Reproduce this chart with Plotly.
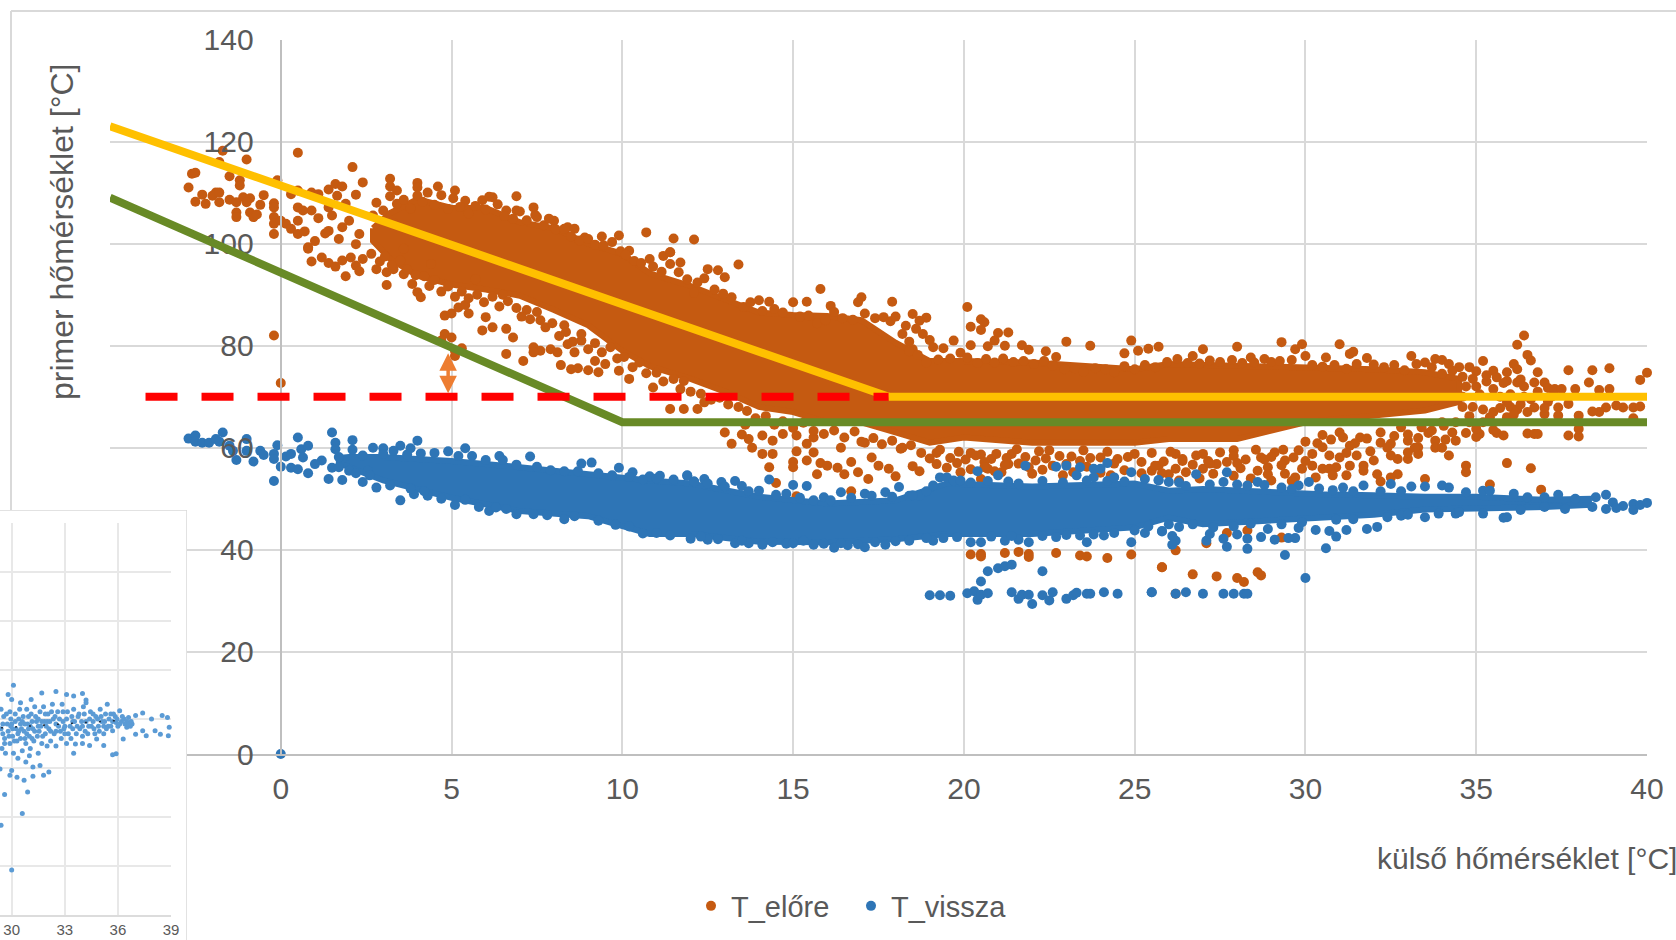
import plotly.graph_objects as go

# Values. The two densest clouds are given as an
# outline (upper/lower limit per x); the visible separate dots are listed singly.
elore_core_x = [2.7,3.2,4,5,6,7,8,9,10,10.8,12,13,14,15,16,17,18,19,20,22,25,26,28,30,32,33.5,34.5]
elore_core_hi = [103,106,108.7,107,107,104.2,103,100,98,94.2,91.7,89,86.5,86,85.8,85,80.6,77,77,76.7,75.4,76.4,76,75.7,75.4,74.8,73.5]
elore_core_lo = [100.5,97,93.7,92,91,89.8,87,84,79,76,73.5,71,68,67,65,65,63,61,62,61,61,61.7,61.7,65,66.3,67.3,69]

vissza_core_x = [1.7,2,3,5,7,9,10.8,12,14,16,18,19.5,22,25,26,27,29,30.5,32,33.5,35,37,38.3]
vissza_core_hi = [58,58.2,58.2,57.4,56.2,54.8,53.6,53,50.4,49.1,49.7,53,52.4,53,51.6,51.9,51.3,50.9,50.7,50.4,50.4,49.8,50]
vissza_core_lo = [57,56,53.6,50.2,47.6,46.6,43.1,43.1,41.6,41.5,42.1,43.1,43.1,44.4,46.3,45,45.6,46.3,46.9,47.9,48.2,48.4,48.8]

elore_left = [(-1.7,118.2),(0.5,117.8),(-1,116.5),(-1.8,116),(2.1,115),(-2.6,113.7),(-2.5,113.9),(-1.5,113.2),(-1.2,112.4),(-1.2,111.4),(-2.7,111),(-0.1,112.4),(-.5,109.5),(-2.3,109.6),(-1.9,110),(-2,109.4),(-1.8,110),(-2.5,108.2),(-2.2,107.8),(-1.8,108.1),(-1.5,108.6),(-1.3,108.1),(-1.1,109.1),(-.9,108.9),(-1,108.1),(-.6,107.6),(-1.3,106.1),(-1.3,105.2),(-.9,106.1),(-.8,105.2),(-.7,105.7),(-.2,107.9),(-.2,107.1),(-.2,105.2),(-.2,103.9),(-.2,101.9),(0,104.5),(.15,103.9),(.3,102.9),(.5,101.9),(.7,102.4),(.3,109.7),(.5,110.4),(.9,110),(1.1,109.7),(1.4,110.6),(1.6,111.7),(1.8,111.2),(2.4,112),(1.65,109.4),(2.2,109.6),(.5,107.1),(.9,106.5),(.65,106.5),(.5,104.5),(1.1,105),(1.4,107.1),(1.5,105.5),(1.9,107.8),(2,104.5),(1.8,103.2),(1.4,102.5),(1.3,102),(1.7,100.9),(2.3,101.9),(2.2,99.9),(1,100.5),(.8,99.3),(.8,99),(.9,96.5),(1.2,97.3),(1.4,96.2),(1.6,95.5),(1.8,96.7),(2.05,97.3),(1.9,93.6),(2.2,95.7),(2.3,94.6),(2.4,97),(2.8,95),(3.1,91.9),(3.1,94.4),(3.3,95),(3.6,94),(3.85,92.1),(4,90.5),(4.1,89.5),(3.2,112.7),(3.2,111.2),(4,111.9),(4,111),(4.6,111.2),(5.1,110.4),(3.4,110.4),(6.9,109.3),(6.2,109.1),(5.4,108.4),(6.6,106.5),(6.9,106.5),(7.4,107.1),(7.5,105.2),(8,104.5),(8.4,103.2),(8.6,102.9),(8.9,101.2),(9.4,101.4),(9.9,101.6),(10.7,102.2),(11.5,101),(12.1,100.8),(11.4,98.3),(10.8,97),(10.2,98.6),(4.8,85.9),(5,86.3),(5.2,87.5),(5.4,88),(5.5,86.3),(4.8,82.3),(5,81.6),(4.7,81),(5.1,79),(5.3,79.5),(5.1,78),(5.9,83),(6,85.6),(6.2,83.6),(6.6,83.3),(6.8,81.6),(6.6,78.4),(7.1,77),(7.4,79.7),(7.6,79),(7.4,78.7),(7.9,79.3),(8.1,78.7),(8.4,80.3),(8.6,78.7),(8.2,76.2),(8.5,75.4),(8.7,75.6),(9,75.2),(9.2,77),(9.3,74.8),(9.5,76.4),(9.9,75.1),(10.2,73.5),(10.9,71.8),(11.8,73.1),(-.2,82),(0,72.7),(3.3,104),(3.6,99),(4.4,96),(5.7,93),(6.5,90),(7.2,87),(7.6,85),(8.3,84),(8.8,81)]

elore_mid = [(11.4,67.6),(11.8,67.6),(12.2,67.6),(12.4,68.9),(13,63),(13.2,60.8),(13.5,62.6),(13.7,61.7),(13.8,60),(14.1,62.4),(14.1,58.8),(14.4,58.8),(14.3,56.2),(14.4,61.4),(14.7,62.7),(15,57.2),(15,56.2),(15.1,59.3),(15.1,62.4),(15.4,57.5),(15.4,60.8),(15.6,59.1),(15.7,54.8),(15.8,57),(16,56.5),(16.3,56.1),(16.5,54.8),(16.7,57.2),(16.9,55.2),(17.2,53.9),(17.3,58.1),(17.5,56.5),(17.8,55.9),(18,54.4),(18.5,56.4),(18.7,55.4),(14.5,53.1),(16.7,51.5),(15.1,50.5),(19.9,55.2),(20.5,53.9),(20.7,55.9),(21.1,55.2),(20.2,59),(20.5,58.7),(20.8,57.8),(21.4,58.8),(21.3,56.8),(21.9,56.2),(22.1,57.5),(22.5,59.5),(23,56.8),(23.5,59.5),(24,58.1),(24.5,57.8),(25,58.8),(25.5,55.5),(25.7,56.5),(20.2,39.1),(20.5,39.2),(20.5,38.7),(21.2,39.4),(21.6,39.6),(21.9,39.2),(21.9,38.6),(22.7,39.4),(23.4,38.9),(23.6,38.7),(24.2,38.4),(24.9,39.1),(25.8,36.6),(13.4,95.9),(15.8,91.1),(12.8,94.8),(13,93.4),(12.5,95),(11.7,96.3),(11.2,97.6),(11.4,98.3),(12.1,90.4),(14.3,88.6),(14,88.9),(15,88.5),(15.4,88.6),(17,89.5),(16.9,88.5),(17.9,88.6),(16.1,87.8),(18.5,86.2),(18.9,85.5),(18.7,84.9),(18.3,83.9),(18.6,83.3),(18.8,82.3),(19,81.1),(18.4,80.8),(18.5,79.3),(19.1,79.7),(19.4,79.5),(19.7,81),(20.1,87.6),(20.2,83.7),(20.5,85.2),(20.6,84.6),(20.5,83.1),(20.2,80.1),(21,82.5),(21.3,82.6),(20.9,81),(20.7,79.9),(21.2,80),(21.7,80.1),(21.9,79.2),(22.4,78.9),(22.7,77.8),(23,80.8),(23.7,80),(24.9,81),(25.1,79),(25.4,79.4),(25.7,79.8),(24.7,78.5),(13.6,64.5),(15.6,62),(17.1,61),(19.2,59),(18.2,60),(16.4,60)]

elore_right = [(26.7,78),(27,79.3),(28,79.8),(29.3,80.7),(29.7,79.3),(29.9,80.3),(30,78),(28.8,77.4),(28.4,77.7),(30.6,77.7),(31,80.3),(31.3,78.4),(31.4,78.8),(31.8,77.6),(33.1,78),(33.5,76.7),(33.8,77.4),(34,77.2),(34.2,76.4),(34.5,75.8),(35.2,77),(34.8,75.8),(35.5,75.1),(36.1,76.4),(36.2,80.2),(36.4,82),(36.5,78.2),(36.6,77.1),(36.8,74.8),(35.9,74.8),(36.2,75.4),(36.2,72.8),(36.7,72.8),(37,72.8),(37.1,71.7),(37.3,71.5),(37.5,71.5),(37.7,75.2),(37.9,71.5),(38.3,72.8),(38.4,75.2),(38.6,71.3),(38.9,71.5),(38.9,75.6),(39.8,73.3),(40,74.7),(39.3,67.9),(39.6,67.9),(39.8,68.1),(39.1,68.3),(38.8,67.9),(38.6,67),(38.4,67.1),(38,66.3),(37.4,67.9),(37.4,66.3),(37.7,68.6),(37,66.6),(36.7,67.9),(36.5,67),(39.6,65.8),(37.7,62.4),(38,62.2),(38,63.7),(36.5,62.8),(36.7,62.7),(36.8,62.7),(35.6,62.9),(35.8,62.4),(35.1,62.7),(35,62.1),(34.7,62.9),(34.4,61.4),(34.1,61.6),(33.8,61.4),(33.8,60),(33.6,62.9),(33.3,60.1),(33.3,58.8),(33,57.8),(32.7,57.8),(32.5,58.5),(34.2,58.5),(33,59.1),(34.7,56.5),(34.7,55.2),(35.9,57),(36.6,56),(33.5,53.9),(32.2,53.4),(32.7,54.8),(32.5,54.2),(32.1,54.8),(35.4,52.8),(36.9,51.8),(30.9,56.2),(30.5,55.9),(30.7,55.9),(31.3,56.5),(31.7,56.5),(31,58.1),(31.5,58.5),(32,57.5),(30.8,54.6),(31.2,54.6),(31.7,55.5),(30.3,54.2),(29.9,55.9),(30.2,56.5),(30.2,58.8),(29.7,54.2),(29.4,54.9),(29.4,57.5),(28.9,56.2),(28.6,55.5),(28.1,56),(27.7,57.2),(27.4,56.8),(27,55.9),(26.7,56.7),(26.5,55.2),(26.2,55.9),(26,54.8),(25.6,56.5),(26.2,58.8),(27,58.8),(27.9,59.5),(28.7,58.1),(29.1,59.1),(29.8,59.5),(30.5,60.1),(31.3,60.4),(32.5,60.8),(33,61.4),(25.8,36.6),(26.7,35.2),(27.4,34.8),(28,34.5),(28.2,33.7),(28.6,35.6),(28.7,35),(26.2,39.9),(27.1,41.3),(27.7,43.3),(28.3,43.8),(29.3,42.4),(26.2,31.4),(30.5,62.5),(31,63),(31.6,62),(32.2,63),(32.8,64),(33.4,64),(34,65),(34.6,70),(35,72),(35.4,66),(35.7,70),(36,68),(35.3,73),(36.4,70),(37.1,69)]

elore_top_edge = [(2.7,105.5),(2.8,108),(3,106.5),(3.2,109.3),(3.4,107.8),(3.6,108.6),(3.8,106.9),(4,109.4),(4.15,108.2),(4.3,110),(4.5,107.6),(4.7,109.5),(4.9,106.8),(5.05,108.9),(5.25,107.2),(5.5,105.9),(5.7,107.4),(5.9,108.5),(6,106.7),(6.1,109.2),(6.35,107.7),(6.55,105.4),(6.8,104.9),(7,106.3),(7.2,104.6),(7.45,105.6),(7.7,103.6),(7.85,104.9),(8.05,102.8),(8.3,102.9),(8.5,101.4),(8.75,100.6),(9,100.9),(9.2,99.8),(9.45,99.7),(9.7,100.3),(9.95,98.5),(10.1,97.8),(10.35,96.6),(10.55,96.2),(10.9,95.5),(11.15,94.5),(11.4,96),(11.65,94.4),(11.9,93),(12.2,92.4),(12.4,93.2),(12.7,91),(12.95,90.2),(13.2,89.5),(13.55,87.6),(13.75,88.5),(14.1,86.8),(14.45,87.2),(14.7,86.5),(15.2,85.7),(15.45,85.9),(15.7,84.4),(15.95,85),(16.2,86.6),(16.45,85.4),(16.75,85.1),(17.1,86.3),(17.4,85.4),(17.65,85.6),(17.85,84.8),(18,85.7),(18.2,82.3),(18.4,78.9),(18.65,78.2),(18.9,76.7),(19.25,77.3),(19.6,77.5),(19.9,78.6),(20.1,77.7),(20.4,76.6),(20.65,77.4),(20.9,76.7),(21.15,77.5),(21.45,76.8),(21.75,77),(22.05,76.4),(22.35,77),(22.6,76.1),(22.95,75.4),(23.25,75.6),(23.5,74.9),(23.85,75.6),(24.15,75.4),(24.4,74.8),(24.7,76),(25,75.4),(25.3,76.2),(25.6,75.8),(25.95,76.8),(26.25,77.4),(26.55,76.6),(26.9,76.5),(27.2,77.1),(27.5,76.8),(27.85,77.2),(28.15,76.6),(28.5,76.7),(29,76.8),(29.25,77),(29.6,77.2),(30.2,76.2),(30.5,75.9),(30.85,76.2),(31.2,75.5),(31.5,76.4),(32,76.3),(32.3,75.8),(32.6,76.2),(32.9,75.2),(33.25,76.4),(33.7,75.8),(34,74.5),(34.3,75.1),(34.6,73.9),(35,75),(35.3,74.2),(35.6,73.8),(35.9,73.1),(36.3,73.4)]

elore_low_edge = [(2.65,98),(2.9,96.5),(3.05,97.5),(3.25,95.8),(3.5,96.7),(3.7,94.9),(3.95,93.8),(4.2,93.6),(4.35,91.7),(4.5,92.9),(4.7,90.6),(4.9,91.6),(5.1,89.6),(5.3,90.6),(5.5,89.3),(5.75,90),(5.95,88.5),(6.2,89.6),(6.4,87.7),(6.65,88.7),(6.9,87.4),(7.05,85.7),(7.3,85.2),(7.5,86.6),(7.75,83.6),(7.95,84.4),(8.15,81.9),(8.35,82.7),(8.55,80.8),(8.8,82.3),(9,79.3),(9.2,80.5),(9.4,78.7),(9.65,79.7),(9.85,77.5),(10.05,77.8),(10.3,75.8),(10.5,76.7),(10.7,74.6),(11,74.7),(11.2,73),(11.5,73.5),(11.7,71.5),(12,71),(12.3,70.6),(12.6,69.4),(12.85,69.8),(13.1,68.5),(13.4,68),(13.65,67.2),(13.9,65.8),(14.2,66.2),(14.45,64.5),(14.7,65.2),(15,63.9),(15.3,64.9),(15.6,63.3),(15.9,62.7),(16.2,63.4),(16.5,62),(16.8,63.2),(17,61.2),(17.35,61.9),(17.6,60.7),(17.9,61.4),(18.15,59.8),(18.45,60.5),(18.75,59),(19,57.9),(19.3,59.6),(19.6,58),(19.85,59.2),(20.05,57.7),(20.35,58.5),(20.6,57.2),(20.95,58.8),(21.25,58),(21.55,59.7),(21.8,58.2),(22.2,59.3),(22.4,57.9),(22.8,58.4),(23.15,58.3),(23.4,57.4),(23.7,58),(24.2,59.2),(24.4,56.9),(24.8,58.2),(25.2,57.2),(25.5,59),(25.85,57.3),(26.05,59.2),(26.4,57.8),(26.8,58.5),(27.15,57.4),(27.5,59.1),(27.9,58.4),(28.25,57.7),(28.55,59.6),(29,58.2),(29.35,59.6),(29.65,58.1),(30,61.2),(30.35,60.9),(30.75,61.6),(31.1,62),(31.45,60.9),(31.8,61.8),(32.2,61),(32.6,62.3),(33,62.6),(33.3,61.9),(33.7,63.4),(34.05,64.3),(34.4,65),(34.8,66.2),(35.2,65),(35.5,67),(35.9,66),(36.2,67.5),
(19.2,56.8),(19.5,56.1),(19.8,57),(20.2,55.8),(20.6,56.2),(20.9,55.4),(21.2,56.6),(21.6,56.9),(22,54.9),(22.3,55.7),(22.6,56.5),(22.9,54.6),(23.2,55.2),(23.6,56.3),(24,55.1),(24.3,54.6),(24.7,55.6),(25.2,55),(25.8,55),(26.3,53.6),(26.9,54),(27.3,54.9),(27.9,54.5),(28.4,54),(29,53.6),(28.9,54.8),(29.6,53.5),(26.4,57.4),(27.2,56.9),(28,57),(28.8,57.7),(29.3,56.6),(30,57.4),(30.7,58.5),(31.2,59),(31.9,59.3),(32.4,60),(33.2,60),(34,60),(34.3,63),(35,63.7),(35.5,63.5),
(34.7,72),(34.9,68),(35.1,70.5),(35.2,67.5),(35.5,71.5),(35.7,67.8),(35.8,72.7),(36,70.5),(36.1,66.5),(36.3,68.5),(36.4,72),(36.6,69.5),(36.8,71),(37,67.8),(37.2,70),(35.9,68.9),(34.9,73.5),(34.6,68),(34.8,65)]

vissza_left = [(-2.7,61.8),(-2.5,62.4),(-2.5,61.2),(-2.3,61),(-2.1,61),(-1.9,61.7),(-1.7,63),(-1.8,61.2),(-1.5,60.4),(-1,61.7),(-1.4,59.4),(-1.3,57.6),(-.8,57.3),(-1,59.4),(-.6,59.4),(-.5,58.6),(-.1,60.5),(-.2,58.8),(-.2,57.8),(0,56.3),(-.2,53.5),(.15,58.3),(.3,58.8),(.5,62),(.6,59.7),(.8,60.4),(.65,58.1),(.3,56.1),(.5,55.8),(.8,55),(1.4,53.9),(1.8,53.7),(2.4,53.3),(2.8,52.2),(1.5,63),(1.6,61),(1.6,59.7),(2.1,61.5),(3,59.9),(3.5,60.4),(3.8,59.9),(4,61.4),(5.4,59.9),(6.4,58.4),(7.3,58.3),(8.8,56.9),(9.1,57.1),(9.9,56.1),(10.3,55.2),(10.8,54.4),(11.1,54.5),(11.9,54.5),(12.1,53.4),(3.5,49.7),(3.9,50.9),(4.3,50.6),(5.1,48.8),(6.1,47.6),(6.6,48),(7.4,47),(8.3,46),(1.2,57.5),(1,56.8),(1.5,56.1),(2,55.5),(2.55,55.5),(0,0)]

vissza_mid = [(11.9,54.6),(12.4,53.9),(12.1,53.4),(12.9,53.3),(13.3,53.5),(13.5,52.5),(14.3,53.8),(14,51.6),(15,52.7),(15.4,52.5),(15.9,50.3),(16.4,51.3),(17.1,51),(17.7,51.3),(18.1,52.3),(18.4,50.6),(18.7,50.6),(19.3,54.2),(19.5,54.2),(19.7,53.6),(20.4,55.4),(21,54.6),(21.8,56.5),(22.7,56.3),(23,56.5),(23.4,56.2),(23.8,55.9),(24.2,57),(24,55.9),(24.9,55.2),(24.2,53.5),(25.7,53.7),(23.8,54.2),(12,42.2),(12.5,42),(13.3,41.3),(13.7,41.3),(14.1,41),(14.8,41.2),(15.6,41),(16.2,40.4),(16.6,40.9),(17.1,40.5),(17.7,41),(19.1,41.8),(20.2,41.5),(20.5,41.5),(21.2,41.8),(21.6,42),(21.9,41.5),(22.7,42.5),(23.4,42.8),(23.6,41.5),(24.1,42.8),(24.9,41.5),(25.3,43.3),(25.8,43.7),(19,31.1),(19.3,31.1),(19.6,31),(20.1,31.5),(20.3,31.9),(20.4,30.2),(20.5,31.2),(20.7,31.5),(20.5,33.8),(20.7,35.8),(21,36.4),(21.2,36.8),(21.4,37.1),(22.3,35.8),(21.4,31.7),(21.6,30.4),(21.7,31.2),(21.9,31.2),(22,29.4),(22.3,31.1),(22.5,30.1),(22.6,31.7),(23,30.4),(23.2,31.1),(23.3,31.6),(23.6,31.4),(23.7,31.4),(24.1,31.7),(24.5,31.4),(25.5,31.7)]

vissza_right = [(25.7,53.6),(26,53.3),(26.8,54.8),(27.7,55.2),(27.6,53.3),(28.6,53.3),(28.8,52.7),(30.1,53.3),(29.8,52.6),(31.1,52.2),(31.7,52.6),(32.5,52.9),(33.1,52.4),(33.5,52.4),(34,52.6),(34.2,52.2),(34.7,51.3),(35.2,51.6),(35.4,51.6),(36.1,51),(36.5,50.3),(37,50.3),(37.4,50.8),(37.9,50),(38.5,50.3),(38.8,50.8),(39,49.3),(39.3,48.6),(39.6,49),(39.6,47.8),(39.8,48.8),(40,49.2),(39.1,48.2),(38.8,48),(38.4,48.4),(37.6,48),(37,48.4),(36.3,47.8),(35.8,46.3),(35.9,46.4),(35.2,47.1),(34.4,47.1),(33.5,46.4),(32.8,46.7),(32.1,44.5),(31.8,44.1),(30.9,42.6),(30.7,43.7),(31.2,43.9),(30.3,43.9),(29.8,44.3),(30.6,40.3),(30,34.5),(29.4,39),(29.7,42.3),(29.5,42.3),(29.1,42),(28.7,42.5),(28.9,44.1),(28.3,42.2),(28.3,40.2),(28,43),(27.7,40.6),(27.6,42.2),(27.1,41.8),(27.2,43.1),(26.2,41.8),(26.1,42.7),(26.1,41),(25.8,43.6),(26.3,44.5),(25.5,31.7),(26.2,31.4),(26.5,31.7),(27,31.4),(27.6,31.4),(27.9,31.4),(28.2,31.4),(28.3,31.4)]

vissza_edge = [(1.7,58.2),(2.1,59.6),(2.4,58.5),(2.7,60),(3,58.8),(3.3,59.4),(3.7,58.7),(4.1,58.9),(4.5,59),(4.9,59.3),(5.2,58.4),(5.6,58.4),(6,57.6),(6.5,57.6),(6.9,56.7),(7.5,56.3),(7.9,55.6),(8.3,55.4),(8.7,55.4),(9.3,55),(9.7,54.6),(10.2,54.3),(10.6,53.8),(11,54),(11.5,53.8),(12.5,53),(13,52.4),(13.7,51.5),(14.5,50.8),(14.8,51),(15.2,50.2),(15.6,49.7),(16.1,49.7),(16.7,50.2),(17.3,50.6),(17.9,50.4),(18.5,50.7),(18.9,51.5),(19.1,52.6),(19.9,53.6),(20.2,53.2),(20.7,53.5),(21.3,53.4),(21.6,53),(22.3,53.5),(22.9,53.2),(23.3,54.6),(23.6,53.6),(24.4,54.2),(24.7,53.4),(25.3,53.9),(26.3,53.2),(26.5,52.5),(27.2,52.8),(28,52.8),(28.3,52.6),(29.3,52.2),(29.6,51.9),(30.4,52),(30.8,51.7),(31.4,51.5),(32.2,51.5),(32.8,51.5),
(1.7,56.2),(2.2,55),(2.6,54.6),(3.2,52.6),(3.8,52),(4.2,51.5),(4.7,50),(5.4,49.8),(5.8,48.4),(6.3,48.3),(6.9,47),(7.8,46.8),(8.6,46.6),(9.3,45.7),(9.8,44.9),(10.2,44.6),(10.6,43.2),(11,43.3),(11.4,42.8),(12.3,42.6),(12.8,42.1),(13.5,41.8),(14.4,41.5),(15,41.3),(15.3,41.8),(15.9,41.2),(16.4,41.3),(16.9,41.1),(17.4,41.5),(18,41.7),(18.4,41.8),(18.9,42.3),(19.4,42.3),(19.8,42.5),(20.8,42.6),(21.4,42.7),(22.3,42.7),(23,42.9),(23.8,43),(24.4,43.3),(25,43.8),(25.4,44.6),(26,45),(26.7,45),(27.3,44.4),(27.9,44.6),(28.4,45.1),(29.3,45),(29.9,45.4),(30.9,45.9),(31.4,46),(32.4,46.4),(33,46.9),(33.9,47.1),(34.5,47.4)]

felso_x = [-5, 17.8]
felso_y = [123, 70]
felso_vizsz_x = [17.8, 40]
felso_vizsz_y = [70, 70]
also_x = [-5, 10, 40]
also_y = [109, 65, 65]
szaggatott_x = [-3.96, 17.8]
szaggatott_y = [70, 70]

kis_pts = [(30.1,4.69),(29.8,4.5),(30,4.4),(31.7,4.53),(32.5,4.56),(33.1,4.5),(33.5,4.47),(34,4.52),(34.2,4.39),(34.2,4.33),(35.4,4.3),(31.1,4.4),(30.5,4.33),(30,.92),(30.6,2.07),(29.4,1.83),(30.9,2.51),(29.6,2.46),(35.9,3.29),(35.7,3.27),(33.5,3.3),(32.1,2.92),(31.8,2.85),(31.6,3.05),(31.2,3.02),(31.2,2.83),(30.7,2.75),(30.3,2.81),(30,2.95),(29.9,2.85),(30.8,3.12),(31,3.25),(29.34,2.98),(38.9,3.83),(38.85,3.66),(38.8,4.03),(38.5,4.07),(38.4,3.69),(38.1,3.76),(37.9,4),(37.6,3.66),(37.4,3.76),(37.4,4.12),(37,4.07),(37,3.69),(36.3,3.59),(36.1,4.17),(36.6,4.03),(36.5,3.83),(36.8,3.9),(35.9,3.93),(35.7,3.76),(35.2,3.46),(34.8,3.59),(34.4,3.46),(34,3.5),(33.6,3.49),
(29.4,4.2),(29.5,3.9),(29.6,3.6),(29.45,3.4),(29.7,4.1),(29.8,3.75),(29.65,3.3),(29.9,3.5),(29.9,4.15),(30,3.9),(30.05,3.65),(30.1,3.3),(30.2,4.1),(30.25,3.8),(30.3,3.55),(30.35,3.2),(30.45,4.2),(30.5,3.9),(30.5,3.6),(30.6,3.35),(30.65,4.05),(30.7,3.75),(30.8,3.5),(30.85,4.2),(30.9,3.9),(31,3.65),(31.05,3.4),(31.1,4.1),(31.2,3.8),(31.25,3.55),(31.3,4.25),(31.4,3.95),(31.45,3.65),(31.5,3.3),(31.6,4.15),(31.65,3.85),(31.7,3.5),(31.8,4.25),(31.85,3.95),(31.9,3.7),(32,3.45),(32.05,4.1),(32.1,3.8),(32.2,3.55),(32.3,4.3),(32.35,4),(32.4,3.7),(32.5,3.45),(32.6,4.15),(32.65,3.85),(32.8,3.6),(32.85,4.3),(32.9,3.95),(33,3.7),(33.1,3.5),(33.15,4.15),(33.3,3.85),(33.35,3.6),(33.5,4.2),(33.55,3.95),(33.65,3.7),(33.8,4.1),(33.85,3.8),(34,3.65),(34.05,4.25),(34.2,3.95),(34.3,3.7),(34.45,4.15),(34.5,3.85),(34.7,3.7),(34.75,4.05),(34.9,3.85),(35,4.2),(35.1,3.95),(35.2,3.7),(35.3,4.1),(35.45,3.85),(35.6,4.1),(35.7,3.95),(35.85,4.05),(36,3.85),(36.2,3.95),(36.35,4),(36.5,3.95),(36.7,3.85),(29.5,3.7),(29.95,3.85),(30.4,3.75),(30.95,3.8),(31.5,3.85),(32,3.95),(32.5,3.9),(33,3.85),(33.45,3.8),(34,3.85),(34.6,3.95),(35.2,3.85),
(29.4,3.8),(29.55,4.05),(29.6,3.5),(29.75,3.9),(29.85,3.65),(29.95,4),(30.05,3.8),(30.15,3.55),(30.2,3.95),(30.35,3.7),(30.4,4),(30.55,3.8),(30.6,3.95),(30.75,3.9),(30.75,3.6),(30.85,3.7),(30.95,4.05),(31.05,3.85),(31.15,3.6),(31.15,3.95),(31.3,3.75),(31.35,4.05),(31.5,4),(31.55,3.75),(31.7,3.95),(31.75,3.65),(31.9,4.1),(31.95,3.85),(32.15,3.95),(32.2,3.75),(32.25,4.15),(32.45,4.05),(32.5,3.75),(32.7,4),(32.75,3.75),(32.9,4.15),(32.95,3.8),(33.1,4),(33.2,3.7),(33.4,4.05),(33.45,3.95),(33.7,3.85),(33.75,4.05),(33.95,3.95),(34.1,4.1),(34.15,3.75),(34.35,3.85),(34.4,4),(34.6,4.1),(34.65,3.8),(34.85,4),(34.95,3.75),(35.05,4.05),(35.25,3.95),(35.35,3.8),(35.5,4),(35.6,3.85),(35.75,4.1),(35.95,4),(36.1,3.9),(36.25,4.05),(36.4,3.9),(36.6,3.9),(36.75,3.95)]
kis_trend_x = [29.4, 36]
kis_trend_y = [3.82, 3.97]

x_ticks = [-5,0,5,10,15,20,25,30,35,40]
x_labels = ["","0","5","10","15","20","25","30","35","40"]
y_ticks = [0,20,40,60,80,100,120,140]
kis_x_ticks = [30,33,36,39]
kis_y_ticks = [0,1,2,3,4,5,6,7,8]

W, H = 1676, 940
GRAY = "#595959"
ORANGE = "#c55a11"
BLUE = "#2e75b6"
FONT = "Liberation Sans"


def px(v):
    return v / W


def py(v):
    return (H - v) / H


def split(*groups):
    pts = [p for g in groups for p in g]
    return [p[0] for p in pts], [p[1] for p in pts]


def outline(xs, hi, lo):
    return xs + xs[::-1] + [xs[0]], hi + lo[::-1] + [hi[0]]


fig = go.Figure()

ox, oy = outline(elore_core_x, elore_core_hi, elore_core_lo)
fig.add_trace(go.Scatter(x=ox, y=oy, mode="lines", fill="toself", fillcolor=ORANGE,
                         line=dict(color=ORANGE, width=6), showlegend=False, hoverinfo="skip"))
ex, ey = split(elore_left, elore_mid, elore_right, elore_top_edge, elore_low_edge)
fig.add_trace(go.Scatter(x=ex, y=ey, mode="markers", name="T_előre", cliponaxis=False,
                         marker=dict(color=ORANGE, size=10)))
bx, by = outline(vissza_core_x, vissza_core_hi, vissza_core_lo)
fig.add_trace(go.Scatter(x=bx, y=by, mode="lines", fill="toself", fillcolor=BLUE,
                         line=dict(color=BLUE, width=6), showlegend=False, hoverinfo="skip"))
vx, vy = split(vissza_left, vissza_mid, vissza_right, vissza_edge)
fig.add_trace(go.Scatter(x=vx, y=vy, mode="markers", name="T_vissza", cliponaxis=False,
                         marker=dict(color=BLUE, size=10)))

# Reference lines live in a second subplot so they sit above the axis labels.
line_kw = dict(xaxis="x2", yaxis="y2", mode="lines", showlegend=False, cliponaxis=False)
fig.add_trace(go.Scatter(x=felso_x, y=felso_y, line=dict(color="#ffc000", width=8), **line_kw))
fig.add_trace(go.Scatter(x=also_x, y=also_y, line=dict(color="#688a26", width=8), **line_kw))
fig.add_trace(go.Scatter(x=szaggatott_x, y=szaggatott_y, line=dict(color="#ff0000", width=8, dash="32px,24px"), **line_kw))
fig.add_trace(go.Scatter(x=felso_vizsz_x, y=felso_vizsz_y, line=dict(color="#ffc000", width=8), **line_kw))

# White panel of the pasted small chart, then its points.
fig.add_trace(go.Scatter(x=[-0.2,1,1,-0.2,-0.2], y=[-0.2,-0.2,1,1,-0.2], xaxis="x3", yaxis="y3", mode="lines",
                         fill="toself", fillcolor="#ffffff", cliponaxis=False,
                         line=dict(color="#d9d9d9", width=1.5), showlegend=False, hoverinfo="skip"))
kx, ky = split(kis_pts)
fig.add_trace(go.Scatter(x=kx, y=ky, xaxis="x4", yaxis="y4", mode="markers", cliponaxis=False,
                         marker=dict(color="#5b9bd5", size=5), showlegend=False))
fig.add_trace(go.Scatter(x=kis_trend_x, y=kis_trend_y, xaxis="x4", yaxis="y4", mode="lines",
                         line=dict(color="#1f2d3d", width=1.5, dash="2px,12px"), showlegend=False))

main_x_dom = [px(110), px(1647)]
main_y_dom = [py(754), py(39.5)]
grid = dict(showgrid=True, gridcolor="#d9d9d9", gridwidth=2, zeroline=False, automargin=False)
hidden = dict(visible=False, showgrid=False, zeroline=False, automargin=False)

fig.update_layout(
    width=W, height=H, margin=dict(l=0, r=0, t=0, b=0, pad=0),
    paper_bgcolor="#ffffff", plot_bgcolor="rgba(0,0,0,0)",
    font=dict(family=FONT, color=GRAY, size=30),
    xaxis=dict(domain=main_x_dom, range=[-5, 40], tickvals=x_ticks, ticktext=x_labels, ticks="",
               anchor="y", showline=True, linecolor="#bfbfbf", linewidth=2,
               ticklabelstandoff=7, tickfont=dict(size=30, color=GRAY), **grid),
    yaxis=dict(domain=main_y_dom, range=[0, 140], tickvals=y_ticks, ticks="", anchor="free",
               position=px(280.6), showline=True, linecolor="#bfbfbf", linewidth=2,
               ticklabelstandoff=20, tickfont=dict(size=30, color=GRAY), **grid),
    xaxis2=dict(domain=main_x_dom, range=[-5, 40], anchor="y2", **hidden),
    yaxis2=dict(domain=main_y_dom, range=[0, 140], anchor="x2", **hidden),
    xaxis3=dict(domain=[0, px(187)], range=[0, 1], anchor="y3", **hidden),
    yaxis3=dict(domain=[0, py(510)], range=[0, 1], anchor="x3", **hidden),
    xaxis4=dict(domain=[0, px(171)], range=[29.34, 39], anchor="y4", tickvals=kis_x_ticks, ticks="",
                showgrid=True, gridcolor="#e8e8e8", gridwidth=1.5, zeroline=False,
                showline=True, linecolor="#dcdcdc", linewidth=1.5, automargin=False,
                tickfont=dict(size=15, color=GRAY)),
    yaxis4=dict(domain=[py(915), py(523)], range=[0, 8], anchor="x4", tickvals=kis_y_ticks, ticks="",
                showgrid=True, gridcolor="#e8e8e8", gridwidth=1.5, zeroline=False, showticklabels=False,
                automargin=False),
    legend=dict(orientation="h", x=px(691), y=py(906), xanchor="left", yanchor="middle",
                font=dict(size=29, color=GRAY), bgcolor="rgba(0,0,0,0)", itemwidth=30,
                entrywidth=115, tracegroupgap=0),
    shapes=[
        dict(type="line", xref="paper", yref="paper", x0=px(11), x1=px(11), y0=py(11), y1=py(510),
             line=dict(color="#d9d9d9", width=2), layer="below"),
        dict(type="line", xref="paper", yref="paper", x0=px(11), x1=1, y0=py(11), y1=py(11),
             line=dict(color="#d9d9d9", width=2), layer="below"),
    ],
    annotations=[
        dict(text="primer hőmérséklet [°C]", xref="paper", yref="paper", x=px(62), y=py(232),
             textangle=-90, showarrow=False, font=dict(size=32, color=GRAY), xanchor="center", yanchor="middle"),
        dict(text="külső hőmérséklet [°C]", xref="paper", yref="paper", x=px(1375), y=py(858),
             showarrow=False, font=dict(size=30, color=GRAY), xanchor="left", yanchor="middle"),
        dict(x=4.9, y=78.5, ax=4.9, ay=70.4, xref="x2", yref="y2", axref="x2", ayref="y2", text="",
             showarrow=True, arrowside="end+start", arrowhead=2, startarrowhead=2,
             arrowsize=1, startarrowsize=1, arrowwidth=3.5, arrowcolor="#ed7d31"),
    ],
)

fig.write_html("out.html", config={"displayModeBar": False},
               post_script="document.body.style.margin='0';document.documentElement.style.overflow='hidden';")
